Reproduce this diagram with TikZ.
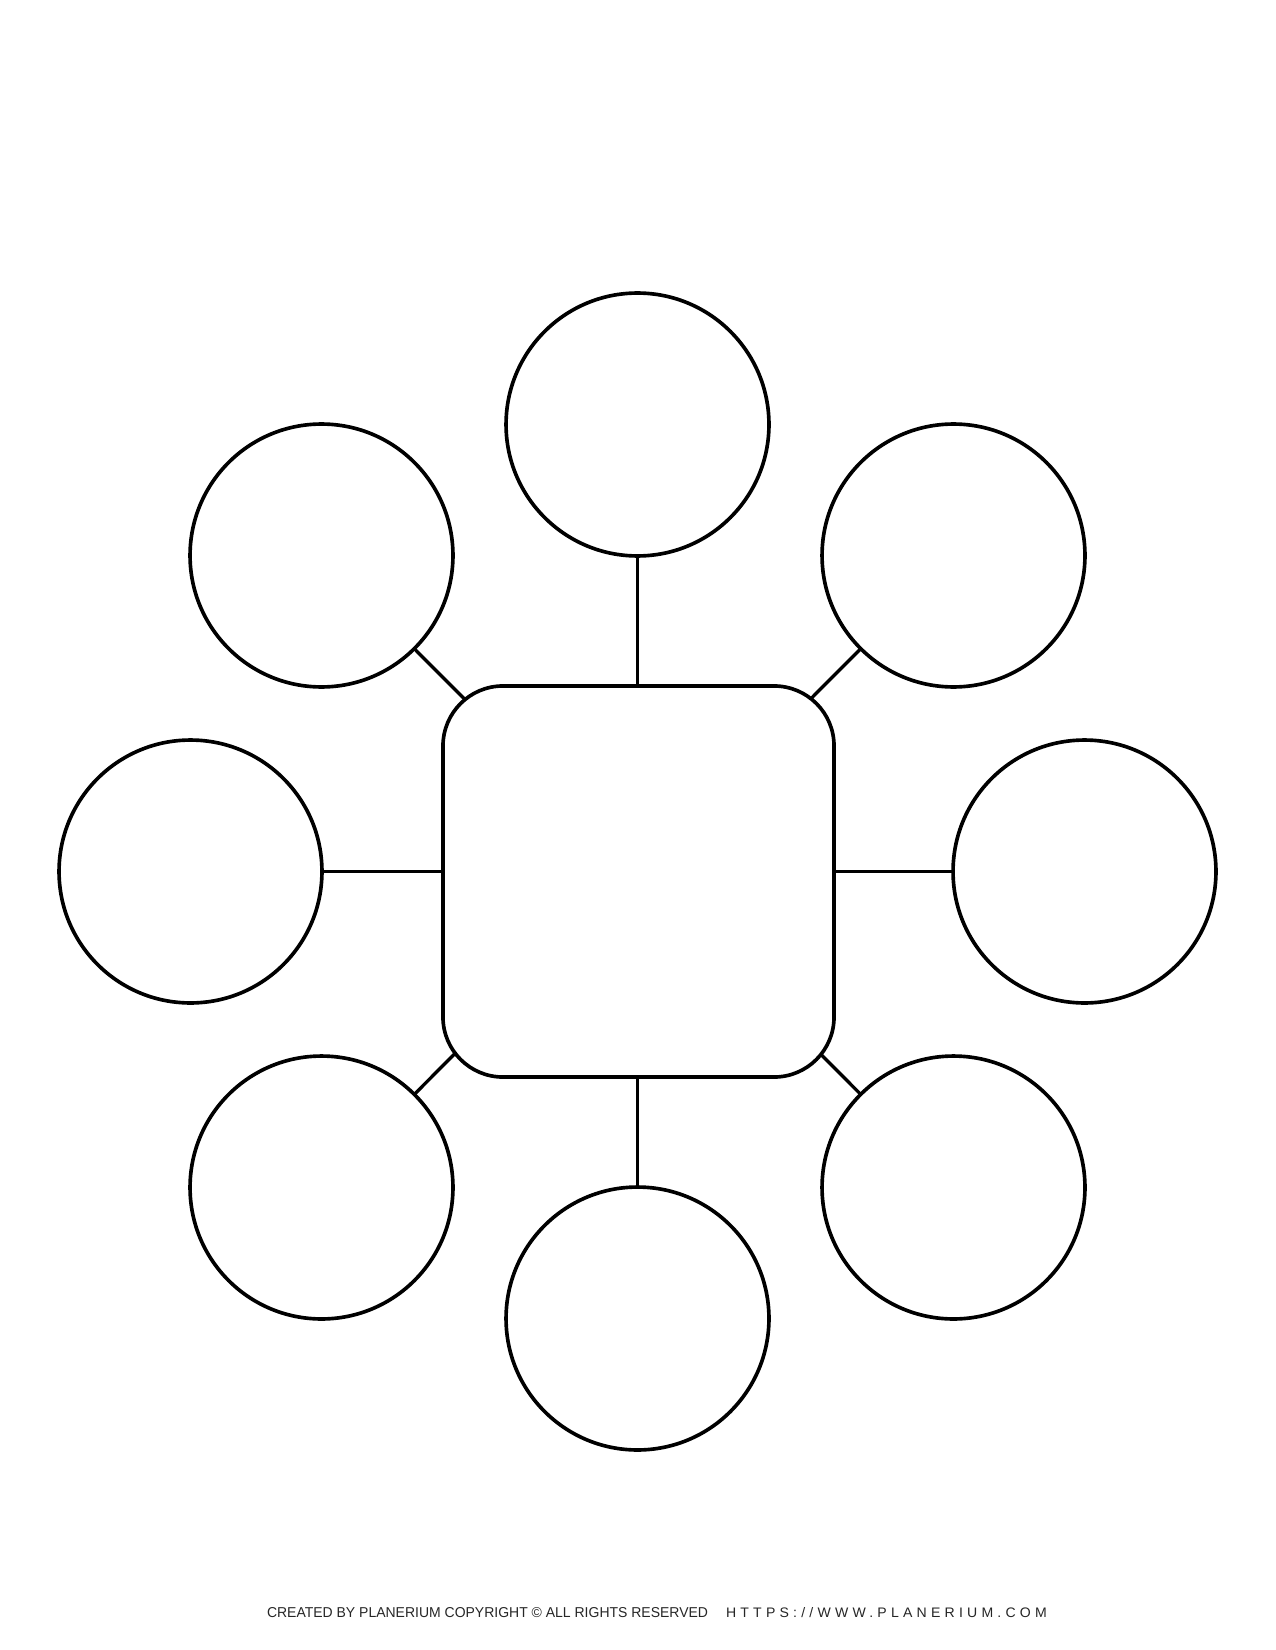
\documentclass[tikz,border=0pt]{standalone}
\usepackage{fontspec}
\setmainfont{Liberation Sans}
\newfontfamily\urlfont[LetterSpace=30]{Liberation Sans}
\begin{document}
\begin{tikzpicture}[x=0.48pt,y=-0.48pt,
  bubble/.style={draw=black,circle,line width=1.75pt,minimum size=126.2pt,inner sep=0pt,outer sep=0pt},
  centerbox/.style={draw=black,rectangle,rounded corners=28.8pt,line width=1.75pt,minimum width=187.7pt,minimum height=187.7pt,inner sep=0pt,outer sep=0pt},
  link/.style={draw=black,line width=1.6pt},
  foot/.style={inner sep=0pt,outer sep=0pt,anchor=base west,text=black!85}]
\useasboundingbox (0,0) rectangle (1275,1650);
\fill[white] (0,0) rectangle (1275,1650);
% centre box
\node[centerbox] (sq) at (638.5,881.5) {};
% bubbles
\node[bubble] (T)  at (637.5,424.5) {};
\node[bubble] (B)  at (637.5,1318.5) {};
\node[bubble] (L)  at (190.5,871.5) {};
\node[bubble] (R)  at (1084.5,871.5) {};
\node[bubble] (TL) at (321.5,555.5) {};
\node[bubble] (TR) at (953.5,555.5) {};
\node[bubble] (BL) at (321.5,1187.5) {};
\node[bubble] (BR) at (953.5,1187.5) {};
% corner contact points on the rounded box
\coordinate (tlEnd) at (465.0,699.6);
\coordinate (trEnd) at (810.9,698.7);
\coordinate (blEnd) at (455.2,1053.3);
\coordinate (brEnd) at (820.9,1054.4);
% connectors
\draw[link] (T) -- (T |- sq.north);
\draw[link] (B) -- (B |- sq.south);
\draw[link] (L) -- (L -| sq.west);
\draw[link] (R) -- (R -| sq.east);
\draw[link] (TL) -- (tlEnd);
\draw[link] (TR) -- (trEnd);
\draw[link] (BL) -- (blEnd);
\draw[link] (BR) -- (brEnd);
% footer
\node[foot] (credit) at (267,1617) {\resizebox{211.7pt}{4.8pt}{CREATED BY PLANERIUM COPYRIGHT © ALL RIGHTS RESERVED}};
\node[foot] (url) at (726,1617) {\resizebox{154pt}{4.8pt}{\urlfont HTTPS://WWW.PLANERIUM.COM}};
\end{tikzpicture}
\end{document}
